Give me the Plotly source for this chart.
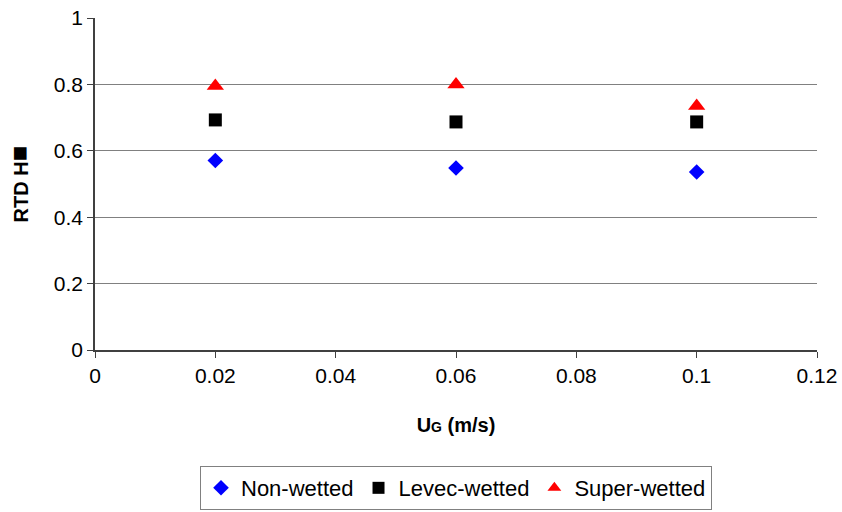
import plotly.graph_objects as go

ug = [0.02, 0.06, 0.1]
non_wetted = [0.571, 0.548, 0.536]
levec_wetted = [0.693, 0.687, 0.687]
super_wetted = [0.795, 0.800, 0.735]

x_ticks = [0, 0.02, 0.04, 0.06, 0.08, 0.1, 0.12]
x_labels = ["0", "0.02", "0.04", "0.06", "0.08", "0.1", "0.12"]
y_ticks = [0, 0.2, 0.4, 0.6, 0.8, 1]
y_labels = ["0", "0.2", "0.4", "0.6", "0.8", "1"]

font = "Liberation Sans, Arial, sans-serif"

fig = go.Figure()
fig.add_trace(go.Scatter(x=ug, y=non_wetted, mode="markers", name="Non-wetted",
                         marker=dict(symbol="diamond", color="#0000ff", size=12)))
fig.add_trace(go.Scatter(x=ug, y=levec_wetted, mode="markers", name="Levec-wetted",
                         marker=dict(symbol="square", color="#000000", size=13)))
fig.add_trace(go.Scatter(x=ug, y=super_wetted, mode="markers", name="Super-wetted",
                         marker=dict(symbol="triangle-up", color="#ff0000", size=15)))

fig.update_layout(
    width=842, height=512,
    margin=dict(l=95, r=25, t=18, b=162, autoexpand=False),
    paper_bgcolor="white", plot_bgcolor="white",
    font=dict(family=font, size=21, color="black"),
    showlegend=True,
    legend=dict(orientation="h", x=0.5, xanchor="center", y=-0.482, yanchor="bottom",
                font=dict(size=22), bordercolor="#808080", borderwidth=1,
                itemsizing="constant", itemwidth=30, tracegroupgap=0),
    xaxis=dict(range=[0, 0.12], tickvals=x_ticks, ticktext=x_labels,
               showgrid=False, zeroline=False, showline=True, linecolor="#404040",
               linewidth=1.5, ticks="outside", ticklen=6, tickcolor="#404040",
               tickfont=dict(size=21),
               title=dict(text="<b>U<span style='font-size:14px'>G</span> (m/s)</b>",
                          font=dict(size=20), standoff=32)),
    yaxis=dict(range=[0, 1], tickvals=y_ticks, ticktext=y_labels,
               showgrid=True, gridcolor="#808080", gridwidth=1.3,
               zeroline=False, showline=True, linecolor="#404040",
               linewidth=1.5, ticks="outside", ticklen=6, tickcolor="#404040",
               tickfont=dict(size=21),
               title=dict(text="<b>RTD H<span style='font-size:26px'>■</span></b>",
                          font=dict(size=20), standoff=20)),
)

fig.write_html("out.html")
